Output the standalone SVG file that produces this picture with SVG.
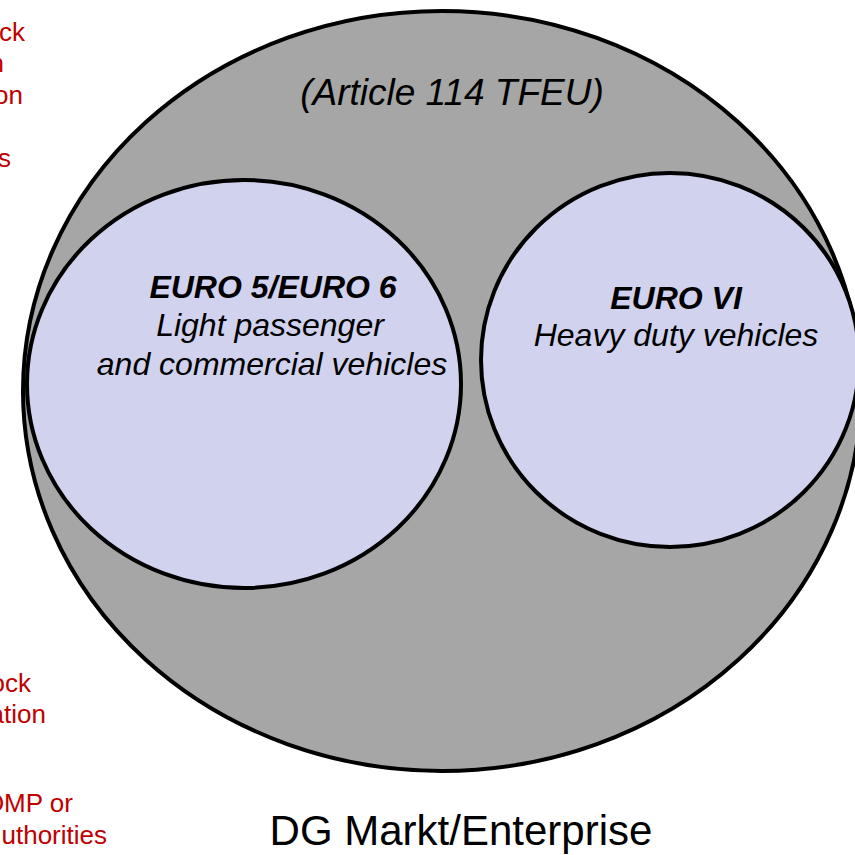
<svg xmlns="http://www.w3.org/2000/svg" width="855" height="855" viewBox="0 0 855 855">
<style>
.red{font-family:"Liberation Sans",Arial,sans-serif;font-size:26px;fill:#c00000;text-anchor:end}
.lbl{font-family:"Liberation Sans",Arial,sans-serif;font-style:italic;fill:#000;text-anchor:middle}
.b{font-weight:bold}
.ring{stroke:#000;stroke-width:4}
</style>
<rect width="855" height="855" fill="#fff"/>
<g id="red-notes">
<text class="red" x="25" y="41">ck</text>
<text class="red" x="4" y="72">n</text>
<text class="red" x="23" y="104">on</text>
<text class="red" x="11" y="167">s</text>
<text class="red" x="31" y="692">ock</text>
<text class="red" x="46" y="723">ation</text>
<text class="red" x="73" y="812">OMP or</text>
<text class="red" x="107" y="844">uthorities</text>
</g>
<g id="outer">
<ellipse class="ring" cx="442" cy="391" rx="419" ry="380" fill="#a6a6a6"/>
<text class="lbl" x="452" y="105" font-size="37">(Article 114 TFEU)</text>
</g>
<g id="euro56">
<ellipse class="ring" cx="244" cy="384" rx="217" ry="204" fill="#d0d2ee"/>
<text class="lbl b" x="273" y="298" font-size="32">EURO 5/EURO 6</text>
<text class="lbl" x="270" y="336" font-size="32">Light passenger</text>
<text class="lbl" x="272" y="375" font-size="32">and commercial vehicles</text>
</g>
<g id="euroVI">
<ellipse class="ring" cx="670" cy="360" rx="189" ry="187" fill="#d0d2ee"/>
<text class="lbl b" x="676" y="309" font-size="32">EURO VI</text>
<text class="lbl" x="676" y="346" font-size="32">Heavy duty vehicles</text>
</g>
<g id="footer">
<text x="461" y="845" font-family="'Liberation Sans',Arial,sans-serif" font-size="42" text-anchor="middle" fill="#000">DG Markt/Enterprise</text>
</g>
<g id="connectors"/>
</svg>
